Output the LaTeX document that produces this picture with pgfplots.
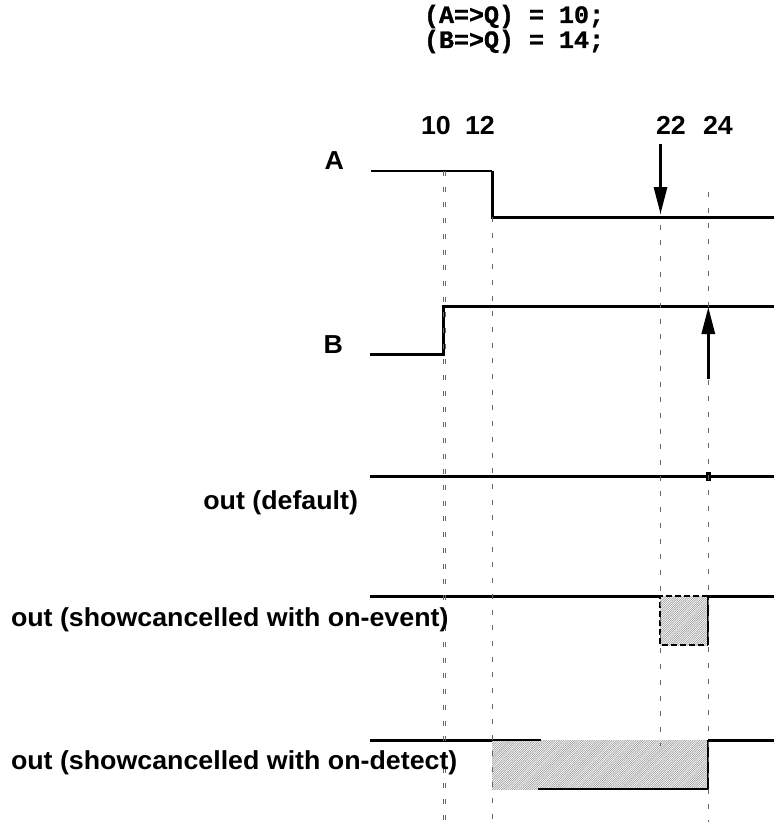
\documentclass[border=0pt]{standalone}
\usepackage{fontspec}
\setmainfont{Liberation Sans}
\setmonofont{Liberation Mono}
\newfontfamily\lblfont{Liberation Sans}[FakeStretch=1.03]
\newfontfamily\codefont{Liberation Mono}[BoldFeatures={FakeBold=1.2}]
\usepackage{pgfplots}
\pgfplotsset{compat=1.18}
\usetikzlibrary{patterns,arrows.meta}
\pgfdeclarepatternformonly{finehatch}{\pgfqpoint{-1pt}{-1pt}}{\pgfqpoint{3pt}{3pt}}{\pgfqpoint{2.2pt}{2.2pt}}%
{\pgfsetlinewidth{0.5pt}\pgfpathmoveto{\pgfqpoint{-0.1pt}{-0.1pt}}\pgfpathlineto{\pgfqpoint{2.3pt}{2.3pt}}\pgfusepath{stroke}}
\tikzset{lbl/.style={inner sep=0pt, outer sep=0pt, font=\lblfont\fontsize{26bp}{30bp}\selectfont\bfseries},
         code/.style={inner sep=0pt, outer sep=0pt, font=\codefont\fontsize{25bp}{30bp}\selectfont\bfseries}}
\begin{document}
\begin{tikzpicture}
\begin{axis}[
  scale only axis, width=774bp, height=822bp,
  xmin=0, xmax=774, ymin=0, ymax=822, y dir=reverse,
  hide axis, clip=true,
]
% hatched regions
\addplot[draw=none, pattern=finehatch, pattern color=gray!85] coordinates {(660,596)(708,596)(708,645)(660,645)} -- cycle;
\addplot[draw=none, pattern=finehatch, pattern color=gray!85] coordinates {(492,740)(708,740)(708,789)(492,789)} -- cycle;
% A
\addplot[black, line width=1.3bp] coordinates {(371,171)(492,171)};
\addplot[black, line width=3bp] coordinates {(492,171)(492,217)(774,217)};
% B
\addplot[black, line width=3bp] coordinates {(370,354)(443.5,354)(443.5,306)(774,306)};
% out default
\addplot[black, line width=3bp] coordinates {(370,476)(774,476)};
\addplot[black, line width=4.5bp] coordinates {(708.5,471.5)(708.5,481)};
% out on-event
\addplot[black, line width=3bp] coordinates {(370,596)(660,596)};
\addplot[black, line width=3bp] coordinates {(708,596)(774,596)};
\addplot[black, line width=1.5bp, dash pattern=on 6bp off 3bp] coordinates {(708,596)(660,596)(660,645)(708,645)};
\addplot[black, line width=1.5bp] coordinates {(708,596)(708,645)};
% out on-detect
\addplot[black, line width=3bp] coordinates {(370,740)(492,740)};
\addplot[black, line width=1.2bp] coordinates {(492,740)(541,740)};
\addplot[black, line width=1.5bp] coordinates {(538,789)(708,789)(708,740)};
\addplot[black, line width=3bp] coordinates {(708,740)(774,740)};
% dashed guides
\addplot[gray!80!black, line width=0.9bp, dash pattern=on 5bp off 10.7bp] coordinates {(443.3,171)(443.3,822)};
\addplot[gray!80!black, line width=0.9bp, dash pattern=on 5bp off 10.7bp] coordinates {(445.6,171)(445.6,822)};
\addplot[gray!80!black, line width=0.9bp, dash pattern=on 5bp off 10.7bp] coordinates {(492,217)(492,822)};
\addplot[gray!80!black, line width=0.9bp, dash pattern=on 5bp off 10.7bp] coordinates {(660.5,146)(660.5,746)};
\addplot[gray!80!black, line width=0.9bp, dash pattern=on 5bp off 10.7bp] coordinates {(708.3,192)(708.3,822)};
% arrows
\addplot[black, line width=3bp, -{Triangle[length=27bp,width=13bp]}] coordinates {(660.5,144)(660.5,214)};
\addplot[black, line width=3bp, -{Triangle[length=27bp,width=13bp]}] coordinates {(708.3,379)(708.3,307)};
% texts
\node[code, anchor=base west] at (axis cs:424,23) {(A=>Q) = 10;};
\node[code, anchor=base west] at (axis cs:424,48) {(B=>Q) = 14;};
\node[lbl, anchor=base west] at (axis cs:421,135) {10};
\node[lbl, anchor=base west] at (axis cs:465,135) {12};
\node[lbl, anchor=base west] at (axis cs:656,135) {22};
\node[lbl, anchor=base west] at (axis cs:703,135) {24};
\node[lbl, anchor=base east] at (axis cs:344,170) {A};
\node[lbl, anchor=base east] at (axis cs:343,353) {B};
\node[lbl, anchor=base east] at (axis cs:358,509) {out (default)};
\node[lbl, anchor=base west] at (axis cs:11,626) {out (showcancelled with on-event)};
\node[lbl, anchor=base west] at (axis cs:11,769) {out (showcancelled with on-detect)};
\end{axis}
\pgfresetboundingbox
\path (current axis.south west) rectangle (current axis.north east);
\end{tikzpicture}
\end{document}
